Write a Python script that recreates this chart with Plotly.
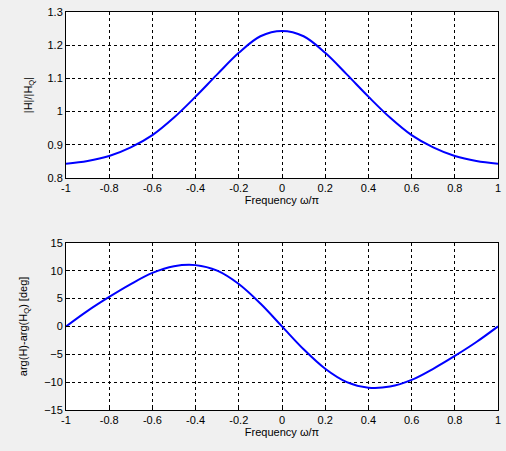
import plotly.graph_objects as go
from plotly.subplots import make_subplots

freq = [-1.0, -0.9, -0.8, -0.7, -0.6, -0.5, -0.4, -0.3, -0.2, -0.1, 0.0,
        0.1, 0.2, 0.3, 0.4, 0.5, 0.6, 0.7, 0.8, 0.9, 1.0]
mag_ratio = [0.843, 0.851, 0.866, 0.892, 0.929, 0.982, 1.045, 1.112, 1.177, 1.227, 1.243,
             1.227, 1.177, 1.112, 1.045, 0.982, 0.929, 0.892, 0.866, 0.851, 0.843]
phase_diff = [0.0, 2.8, 5.3, 7.6, 9.6, 10.8, 11.0, 10.0, 7.6, 4.1, 0.0,
              -4.1, -7.6, -10.0, -11.0, -10.8, -9.6, -7.6, -5.3, -2.8, 0.0]
x_ticks = [-1, -0.8, -0.6, -0.4, -0.2, 0, 0.2, 0.4, 0.6, 0.8, 1]
x_ticklabels = ["-1", "-0.8", "-0.6", "-0.4", "-0.2", "0", "0.2", "0.4", "0.6", "0.8", "1"]
mag_ticks = [0.8, 0.9, 1.0, 1.1, 1.2, 1.3]
mag_ticklabels = ["0.8", "0.9", "1", "1.1", "1.2", "1.3"]
phase_ticks = [-15, -10, -5, 0, 5, 10, 15]

fig = make_subplots(rows=2, cols=1)
fig.add_trace(go.Scatter(x=freq, y=mag_ratio, mode="lines",
                         line=dict(color="#0000ff", width=2, shape="spline")), row=1, col=1)
fig.add_trace(go.Scatter(x=freq, y=phase_diff, mode="lines",
                         line=dict(color="#0000ff", width=2, shape="spline")), row=2, col=1)

font = dict(family="Liberation Sans, Arial, sans-serif", size=11, color="black")
common = dict(showline=True, linecolor="black", linewidth=1, mirror=True, ticks="inside", ticklen=4,
              tickcolor="black", showgrid=True, gridcolor="black", gridwidth=1, griddash="3px,3px",
              zeroline=False, tickfont=font)

fig.update_xaxes(range=[-1, 1], tickvals=x_ticks, ticktext=x_ticklabels,
                 title=dict(text="Frequency ω/π", font=font, standoff=3), **common)
fig.update_yaxes(**common)
fig.update_yaxes(range=[0.8, 1.3], tickvals=mag_ticks, ticktext=mag_ticklabels,
                 title=dict(text="|H|/|H<sub>Q</sub>|", font=font, standoff=12), row=1, col=1)
fig.update_yaxes(range=[-15, 15], tickvals=phase_ticks,
                 title=dict(text="arg(H)-arg(H<sub>Q</sub>) [deg]", font=font, standoff=14), row=2, col=1)

fig.update_layout(
    width=506, height=451,
    paper_bgcolor="#f0f0f0", plot_bgcolor="white",
    margin=dict(l=66, r=5, t=12, b=41),
    showlegend=False,
    font=font,
)
fig.layout.yaxis.domain = [0.583, 1.0]
fig.layout.yaxis2.domain = [0.0, 0.42]

fig.write_html("out.html", config={"displayModeBar": False},
               post_script="document.body.style.margin='0';document.body.style.overflow='hidden';")
